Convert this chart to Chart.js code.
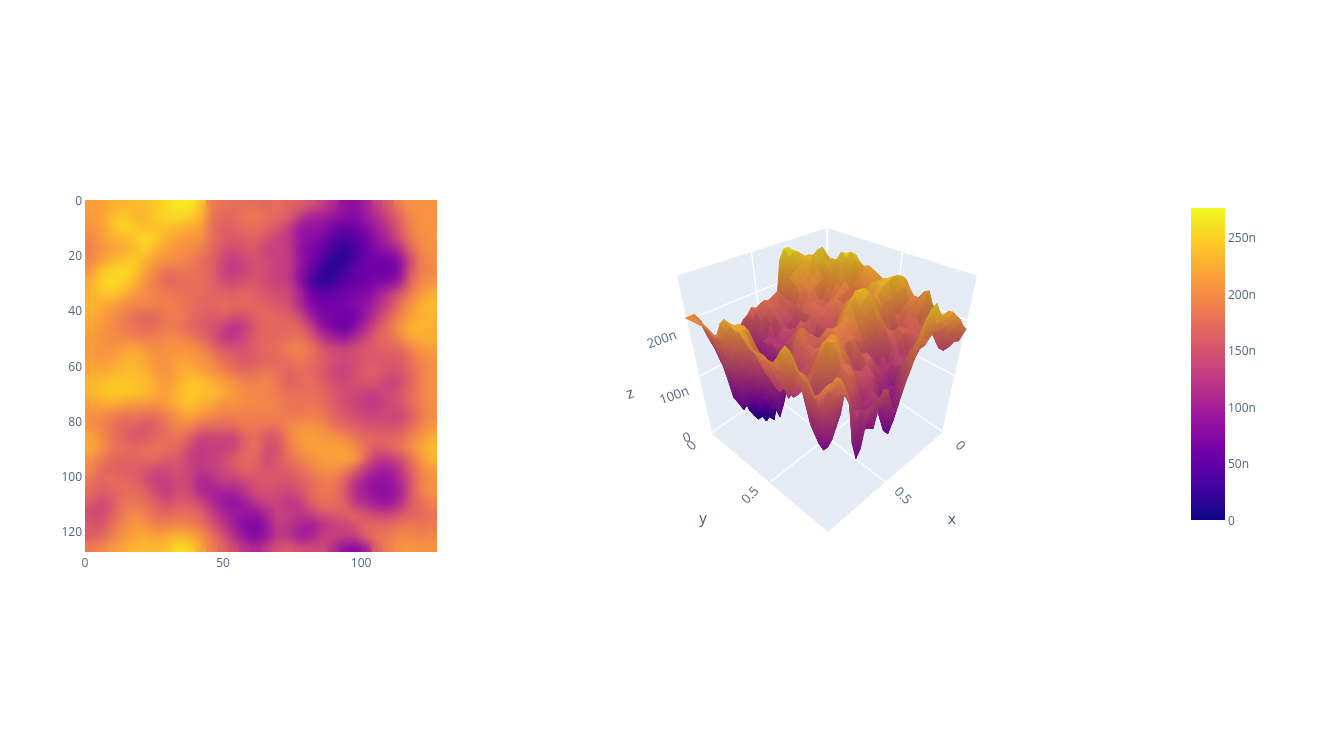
<!DOCTYPE html>
<html>
<head>
<meta charset="utf-8">
<script src="https://cdn.jsdelivr.net/npm/chart.js@4"></script>
<style>
  body { margin:0; background:#fff; width:1320px; height:748px; overflow:hidden; }
  canvas { position:absolute; filter:blur(0.5px); }
  #heat { left:0; top:180px; }
  #scene { left:600px; top:210px; }
  #bar { left:1170px; top:195px; }
</style>
</head>
<body>
<canvas id="heat" width="470" height="400"></canvas>
<canvas id="scene" width="400" height="330"></canvas>
<canvas id="bar" width="100" height="340"></canvas>
<script>
// height map in nm, every 4 samples (rows top to bottom)
const heightRows = [
[215,215,225,230,235,235,245,255,265,265,245,185,180,175,175,175,170,175,165,160,150,130,110,85,80,100,130,155,190,205,205,205],
[210,215,235,245,230,230,245,255,258,250,232,180,170,170,180,185,175,170,160,130,105,100,90,80,75,95,115,140,165,195,205,205],
[205,215,235,255,245,235,238,238,232,225,215,175,160,165,175,175,165,155,130,90,85,85,65,55,60,75,100,120,160,190,205,205],
[195,210,225,230,240,258,245,225,215,210,205,175,160,155,160,165,150,130,125,90,80,70,45,35,45,60,85,110,145,185,200,205],
[190,205,215,220,235,250,228,215,205,200,190,170,150,145,150,155,130,135,125,85,70,55,30,15,30,55,75,90,110,165,195,205],
[195,212,230,238,245,228,210,205,200,190,175,165,140,125,140,150,140,130,130,90,65,40,15,15,40,60,65,60,75,140,190,200],
[205,240,252,258,245,215,195,175,180,180,175,165,135,125,135,150,145,130,125,85,55,20,12,30,50,60,60,55,75,150,190,195],
[225,250,258,250,228,205,185,170,170,175,175,165,145,140,150,155,140,130,130,85,35,15,25,45,50,60,70,75,95,165,195,205],
[225,238,245,228,210,200,190,185,180,175,175,165,165,160,170,160,150,145,140,105,60,50,55,60,70,70,95,120,150,185,210,225],
[230,225,215,205,195,195,190,190,185,175,170,165,175,170,170,165,160,155,145,110,75,60,65,65,75,85,110,135,175,205,225,235],
[225,215,205,190,175,170,170,185,190,175,165,155,165,150,150,165,170,165,160,140,95,70,65,60,65,90,125,160,190,215,225,230],
[220,210,200,185,180,170,175,185,180,170,160,150,135,115,130,155,170,170,170,165,130,85,65,50,75,110,150,175,205,225,230,225],
[215,205,200,195,190,185,190,195,195,185,170,155,125,120,140,160,170,170,175,180,160,120,100,85,110,135,165,175,195,220,225,225],
[210,205,205,215,220,210,200,205,205,205,195,175,155,150,150,160,170,175,190,195,180,155,140,135,145,155,160,165,170,190,210,215],
[215,210,215,225,230,220,205,205,215,215,205,195,175,165,150,160,170,170,175,185,175,160,145,140,145,155,155,155,155,175,195,205],
[220,220,225,235,235,225,210,205,220,225,215,205,190,175,165,175,180,175,165,175,170,155,140,130,145,160,160,150,150,170,190,205],
[230,235,240,240,240,235,220,210,225,240,240,225,215,205,190,190,195,180,160,170,175,160,145,140,150,155,150,130,140,165,190,205],
[230,240,245,245,240,235,220,215,230,245,240,235,225,210,200,195,195,185,175,175,175,170,155,145,140,130,130,140,150,170,190,205],
[215,220,225,215,210,210,205,215,230,240,230,220,205,205,200,195,195,190,180,180,180,175,160,145,135,125,125,140,150,170,190,200],
[205,200,190,180,185,175,175,190,210,220,210,200,190,190,190,190,190,190,185,180,190,185,165,155,145,135,135,140,135,155,185,200],
[205,190,180,165,165,150,165,180,195,195,175,170,170,175,185,185,180,180,195,205,205,200,180,170,160,150,150,145,150,170,190,210],
[220,200,180,165,150,155,170,175,180,165,135,135,140,135,165,175,150,155,190,210,215,210,205,195,180,170,165,165,170,190,205,225],
[225,205,180,175,170,175,180,175,170,140,125,130,130,135,165,175,145,150,185,205,215,215,215,215,200,175,155,165,180,200,220,235],
[205,185,170,165,165,170,170,155,155,130,125,130,140,160,170,170,140,155,175,190,200,215,215,220,210,165,125,125,140,175,210,230],
[195,170,165,160,160,150,140,140,150,135,120,130,140,150,165,160,150,155,160,175,190,200,205,190,160,120,100,95,115,160,195,210],
[180,170,175,170,165,145,130,130,145,135,105,110,130,125,140,150,155,150,150,160,170,185,185,165,120,95,85,85,105,150,190,205],
[175,155,165,175,175,165,140,125,145,140,110,100,100,100,120,145,150,140,135,150,170,185,180,160,110,95,82,80,95,150,190,205],
[155,140,155,180,180,175,160,145,160,155,140,115,90,85,95,115,130,135,120,125,160,175,175,165,125,110,95,88,110,155,175,190],
[145,140,160,185,200,190,170,170,175,175,165,135,110,95,90,85,105,135,130,120,130,150,155,160,165,150,135,135,150,165,170,180],
[155,150,175,195,210,205,190,190,195,190,180,155,125,100,75,70,90,130,120,105,95,115,130,135,150,165,170,170,180,185,180,185],
[160,165,190,205,215,225,215,225,230,225,205,180,150,115,85,70,90,125,120,95,100,130,135,125,130,165,180,185,195,195,190,195],
[185,195,210,220,230,235,230,240,258,252,220,190,165,145,120,110,125,150,155,145,140,140,115,85,75,100,165,190,205,210,205,205]
];
const heatXTicks = [0, 50, 100];
const heatYTicks = [0, 20, 40, 60, 80, 100, 120];
const barTickValues = [0, 50, 100, 150, 200, 250];
const barTickLabels = ['0', '50n', '100n', '150n', '200n', '250n'];
const zTickValues = [0, 100, 200];
const zTickLabels = ['0', '100n', '200n'];
const planTickValues = [0, 0.5];
const planTickLabels = ['0', '0.5'];
const plasma = ['#0d0887','#46039f','#7201a8','#9c179e','#bd3786','#d8576b','#ed7953','#fb9f3a','#fdca26','#f0f921'];
const zMax = 276;

const tickColor = '#506784';
const titleColor = '#445a78';
const fontFamily = '"Open Sans", sans-serif';
Chart.defaults.font.family = fontFamily;
Chart.defaults.animation = false;
Chart.defaults.responsive = false;
Chart.defaults.plugins.legend.display = false;
Chart.defaults.plugins.tooltip.enabled = false;

function rgbOf(hex) {
  return [1, 3, 5].map(i => parseInt(hex.substr(i, 2), 16));
}
function colorFor(v, shade) {
  const t = Math.max(0, Math.min(1, v / zMax)) * (plasma.length - 1);
  const i = Math.min(plasma.length - 2, Math.floor(t));
  const a = rgbOf(plasma[i]), b = rgbOf(plasma[i + 1]);
  const c = a.map((p, k) => Math.round((p + (b[k] - p) * (t - i)) * (shade || 1)));
  return `rgb(${c[0]},${c[1]},${c[2]})`;
}

// open sans sits a bit high with a middle baseline, push y labels down
const nudgeYLabels = {
  id: 'nudgeYLabels',
  beforeDraw(chart) {
    chart.scales.y.getLabelItems().forEach(item => { item.options.translation[1] += 1.5; });
  }
};

// ---- heatmap ----
const rows = heightRows.length, cols = heightRows[0].length;
const heatPoints = [], heatColors = [];
heightRows.forEach((row, r) => row.forEach((v, c) => {
  heatPoints.push({ x: c * 4 + 2, y: r * 4 + 2 });
  heatColors.push(colorFor(v));
}));

const softenCells = {
  id: 'softenCells',
  afterDatasetsDraw(chart) {
    const a = chart.chartArea, ctx = chart.ctx;
    ctx.save();
    ctx.beginPath();
    ctx.rect(a.left, a.top, a.width, a.height);
    ctx.clip();
    ctx.filter = 'blur(5px)';
    ctx.drawImage(chart.canvas, a.left, a.top, a.width, a.height, a.left, a.top, a.width, a.height);
    ctx.restore();
  }
};

new Chart(document.getElementById('heat'), {
  type: 'scatter',
  data: { datasets: [{ data: heatPoints, pointStyle: 'rect', pointRadius: 8.5, pointBorderWidth: 0,
    pointBackgroundColor: heatColors }] },
  options: {
    layout: { padding: { top: 20, right: 33 } },
    scales: {
      x: { min: 0, max: 127.5, grid: { display: false, drawTicks: false }, border: { display: false },
        afterFit(s) { s.height = 28; },
        afterBuildTicks(s) { s.ticks = heatXTicks.map(value => ({ value })); },
        ticks: { color: tickColor, font: { size: 12 }, padding: 4, maxRotation: 0, autoSkip: false } },
      y: { reverse: true, min: 0, max: 127.5, grid: { display: false, drawTicks: false }, border: { display: false },
        afterFit(s) { s.width = 85; },
        afterBuildTicks(s) { s.ticks = heatYTicks.map(value => ({ value })); },
        ticks: { color: tickColor, font: { size: 12 }, padding: 3, autoSkip: false } }
    }
  },
  plugins: [softenCells, nudgeYLabels]
});

// ---- 3d surface, projected between the floor and the ceiling of the box ----
const floorBox = { back: [827, 352], left: [711, 433], right: [943, 432], front: [828, 532] };
const roofBox = { back: [827, 228], left: [676, 276], right: [978, 276], front: [827, 332] };

function onBox(q, x, y, k) {
  return q.back[k] * (1 - x) * (1 - y) + q.left[k] * x * (1 - y) + q.right[k] * (1 - x) * y + q.front[k] * x * y;
}
function project(x, y, z) {
  const f = z / 280;
  return { x: onBox(floorBox, x, y, 0) + (onBox(roofBox, x, y, 0) - onBox(floorBox, x, y, 0)) * f,
           y: onBox(floorBox, x, y, 1) + (onBox(roofBox, x, y, 1) - onBox(floorBox, x, y, 1)) * f };
}

const surfacePoints = [];
heightRows.forEach((row, r) => row.forEach((v, c) => {
  surfacePoints.push(project(c / (cols - 1), r / (rows - 1), v));
}));

const drawBox = {
  id: 'drawBox',
  beforeDatasetsDraw(chart) {
    const ctx = chart.ctx, sx = chart.scales.x, sy = chart.scales.y;
    const px = p => [sx.getPixelForValue(p.x), sy.getPixelForValue(p.y)];
    const poly = (pts, fill) => {
      ctx.beginPath();
      pts.forEach((p, i) => { const q = px(p); i ? ctx.lineTo(q[0], q[1]) : ctx.moveTo(q[0], q[1]); });
      ctx.closePath();
      ctx.fillStyle = fill;
      ctx.fill();
    };
    const seg = (a, b, w) => {
      const p = px(a), q = px(b);
      ctx.beginPath(); ctx.moveTo(p[0], p[1]); ctx.lineTo(q[0], q[1]);
      ctx.strokeStyle = '#fff'; ctx.lineWidth = w || 1.3; ctx.stroke();
    };
    const pane = '#e5ecf6';
    poly([project(0,0,0), project(1,0,0), project(1,1,0), project(0,1,0)], pane);
    poly([project(0,0,0), project(1,0,0), project(1,0,280), project(0,0,280)], pane);
    poly([project(0,0,0), project(0,1,0), project(0,1,280), project(0,0,280)], pane);
    // grid on floor and walls
    [0.5].forEach(t => {
      seg(project(t,0,0), project(t,1,0));
      seg(project(0,t,0), project(1,t,0));
      seg(project(t,0,0), project(t,0,280));
      seg(project(0,t,0), project(0,t,280));
    });
    zTickValues.forEach(v => {
      seg(project(1,0,v), project(0,0,v));
      seg(project(0,0,v), project(0,1,v));
    });
    seg(project(1,0,0), project(1,0,280), 2);
    seg(project(0,1,0), project(0,1,280), 2);
    seg(project(0,0,0), project(0,0,280), 2);
    // surface, far quads first
    const pts = chart.getDatasetMeta(0).data;
    const at = (r, c) => pts[r * cols + c];
    const order = [];
    for (let r = 0; r < rows - 1; r++) for (let c = 0; c < cols - 1; c++) order.push([r, c]);
    order.sort((a, b) => (a[0] + a[1]) - (b[0] + b[1]));
    ctx.lineJoin = 'round';
    order.forEach(([r, c]) => {
      const vs = [[r, c], [r, c + 1], [r + 1, c + 1], [r + 1, c]].map(([i, j]) => ({ z: heightRows[i][j], p: at(i, j) }));
      const lo = vs.reduce((m, v) => v.z < m.z ? v : m), hi = vs.reduce((m, v) => v.z > m.z ? v : m);
      const slope = hi.z - lo.z;
      const shade = 0.94 - Math.min(0.14, slope / 250);
      let fill = colorFor((lo.z + hi.z) / 2, shade);
      if (slope > 0 && (hi.p.x !== lo.p.x || hi.p.y !== lo.p.y)) {
        fill = ctx.createLinearGradient(lo.p.x, lo.p.y, hi.p.x, hi.p.y);
        fill.addColorStop(0, colorFor(lo.z, shade));
        fill.addColorStop(1, colorFor(hi.z, shade));
      }
      ctx.beginPath();
      vs.forEach((v, i) => i ? ctx.lineTo(v.p.x, v.p.y) : ctx.moveTo(v.p.x, v.p.y));
      ctx.closePath();
      ctx.fillStyle = fill;
      ctx.strokeStyle = fill;
      ctx.lineWidth = 1;
      ctx.fill();
      ctx.stroke();
    });
    // tick labels and axis titles
    const label = (text, p, dx, dy, angle, color, size) => {
      const q = px(p);
      ctx.save();
      ctx.translate(q[0] + dx, q[1] + dy);
      ctx.rotate(angle * Math.PI / 180);
      ctx.fillStyle = color;
      ctx.font = `${size}px ${fontFamily}`;
      ctx.textAlign = 'center';
      ctx.textBaseline = 'middle';
      ctx.fillText(text, 0, 0);
      ctx.restore();
    };
    zTickValues.forEach((v, i) => label(zTickLabels[i], project(1, 0, v), -24, v ? 19 : 5, -20, tickColor, 13));
    planTickValues.forEach((v, i) => {
      label(planTickLabels[i], project(v, 1, 0), 17, 14, 45, tickColor, 13);
      label(planTickLabels[i], project(1, v, 0), -19, 13, -45, tickColor, 13);
    });
    label('z', project(1, 0, 0), -81, -39, -20, titleColor, 15);
    label('y', project(1, 1, 0), -125, -13, 0, titleColor, 15);
    label('x', project(1, 1, 0), 124, -12, 0, titleColor, 15);
  }
};

new Chart(document.getElementById('scene'), {
  type: 'scatter',
  data: { datasets: [{ data: surfacePoints, pointRadius: 0 }] },
  options: {
    scales: {
      x: { display: false, min: 600, max: 1000 },
      y: { display: false, reverse: true, min: 210, max: 540 }
    }
  },
  plugins: [drawBox]
});

// ---- colour bar ----
new Chart(document.getElementById('bar'), {
  type: 'bar',
  data: { labels: ['z'], datasets: [{
    data: [[0, zMax]],
    barPercentage: 1,
    categoryPercentage: 1,
    backgroundColor(c) {
      const s = c.chart.scales.y;
      const y0 = s ? s.getPixelForValue(0) : NaN, y1 = s ? s.getPixelForValue(zMax) : NaN;
      if (!isFinite(y0) || !isFinite(y1)) return plasma[0];
      const g = c.chart.ctx.createLinearGradient(0, y0, 0, y1);
      plasma.forEach((col, i) => g.addColorStop(i / (plasma.length - 1), col));
      return g;
    }
  }] },
  options: {
    layout: { padding: { left: 21, top: 13, bottom: 15 } },
    scales: {
      x: { display: false },
      y: { position: 'right', min: 0, max: zMax, grid: { display: false, drawTicks: false }, border: { display: false },
        afterFit(s) { s.width = 45; },
        afterBuildTicks(s) { s.ticks = barTickValues.map(value => ({ value })); },
        ticks: { color: tickColor, font: { size: 12 }, padding: 3, autoSkip: false,
          callback(v) { return barTickLabels[barTickValues.indexOf(v)]; } } }
    }
  },
  plugins: [nudgeYLabels]
});
</script>
</body>
</html>
